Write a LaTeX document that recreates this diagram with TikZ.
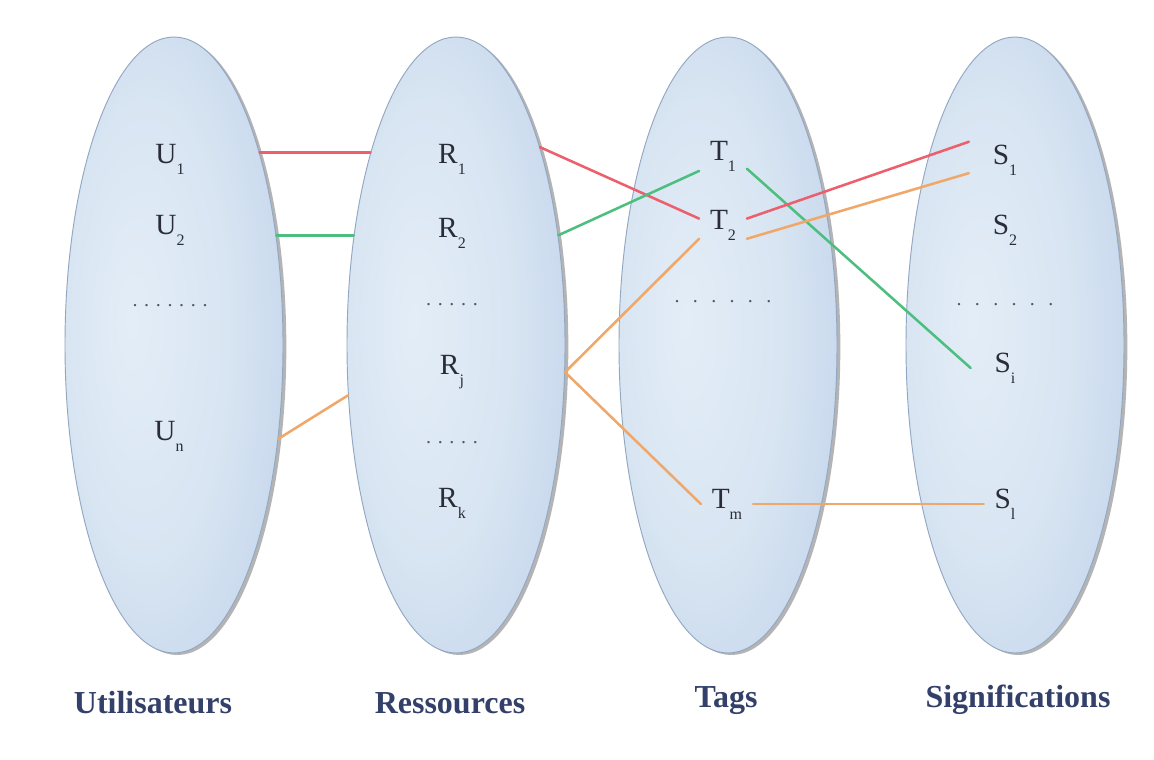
\documentclass[tikz,border=0pt]{standalone}
\usepackage{fontspec}
\setmainfont{Liberation Serif}
\usetikzlibrary{shapes.geometric,shadows}

\definecolor{linkred}{HTML}{EC5F6C}
\definecolor{linkgreen}{HTML}{4CBF7E}
\definecolor{linkorange}{HTML}{EFA86A}
\definecolor{labtext}{HTML}{2A2D38}
\definecolor{titletext}{HTML}{33416A}
\definecolor{rimblue}{HTML}{93A7C2}
\pgfdeclareradialshading{setshade}{\pgfpoint{-10bp}{2bp}}{rgb(0bp)=(.89,.93,.97); rgb(18bp)=(.85,.90,.95); rgb(36bp)=(.76,.83,.92); rgb(50bp)=(.66,.74,.86)}
\newcommand\idx[2]{#1\raisebox{-.38em}{\fontsize{12}{12}\selectfont #2}}

\begin{document}
\begin{tikzpicture}[x=0.75pt, y=-0.75pt, line cap=round,
 set/.style={ellipse, minimum width=163.5pt, minimum height=462pt, shade, shading=setshade, draw=rimblue, line width=.7pt,
  drop shadow={shadow xshift=2.5pt, shadow yshift=-1.5pt, opacity=.45, fill=black!65}},
 item/.style={inner xsep=8pt, inner ysep=2pt, text=labtext, font=\fontsize{22}{26}\selectfont},
 gap/.style={text=labtext!80, font=\fontsize{15}{18}\selectfont},
 title/.style={anchor=base, text=titletext, font=\fontsize{24}{28}\selectfont\bfseries},
 link/.style={line width=1.9pt}]
\path[use as bounding box, fill=white] (0,0) rectangle (1154,760);

% the four sets
\node[set] (eu) at (174,345) {};
\node[set] (er) at (456,345) {};
\node[set] (et) at (728,345) {};
\node[set] (es) at (1015,345) {};

% Utilisateurs
\node[item] (u1) at (170,159) {\idx{U}{1}};
\node[item] (u2) at (170,230) {\idx{U}{2}};
\node[gap] (udots) at (170,306) {. . . . . . .};
\node[item] (un) at (169,436) {\idx{U}{n}};

% Ressources
\node[item] (r1) at (452,159) {\idx{R}{1}};
\node[item] (r2) at (452,233) {\idx{R}{2}};
\node[gap] (rdots1) at (452,305) {. . . . .};
\node[item] (rj) at (452,372) {\idx{R}{j}};
\node[gap] (rdots2) at (452,443) {. . . . .};
\node[item] (rk) at (452,503) {\idx{R}{k}};

% Tags
\node[item] (t1) at (723,156) {\idx{T}{1}};
\node[item] (t2) at (723,225) {\idx{T}{2}};
\node[gap] (tdots) at (723,302) {.\,\, .\,\, .\,\, .\,\, .\,\, .};
\node[item] (tm) at (727,504) {\idx{T}{m}};

% Significations
\node[item, outer xsep=10pt] (s1) at (1005,160) {\idx{S}{1}};
\node[item] (s2) at (1005,230) {\idx{S}{2}};
\node[gap] (sdots) at (1005,305) {.\,\, .\,\, .\,\, .\,\, .\,\, .};
\node[item, outer xsep=10pt] (si) at (1005,368) {\idx{S}{i}};
\node[item] (sl) at (1005,504) {\idx{S}{l}};

% links
\draw[link, linkred] (eu.66) -- (er.114);
\draw[link, linkgreen] (eu.47) -- (er.133);
\draw[link, linkorange] (eu.-42) -- (er.-155);
\draw[link, linkred] (er.67) -- (t2.165);
\draw[link, linkgreen] (er.47) -- (t1.212);
\draw[link, linkorange] (t2.210) -- (er.-14) -- (tm.west);
\draw[link, linkgreen] (t1.-28) -- (si.west);
\draw[link, linkred] (t2.15) -- (s1.north west);
\draw[link, linkorange] (t2.-30) -- (s1.200);
\draw[link, linkorange] (tm.east) -- (sl.west);

% titles
\node[title] (tu) at (153,713) {Utilisateurs};
\node[title] (tr) at (450,713) {Ressources};
\node[title] (tt) at (726,707) {Tags};
\node[title] (ts) at (1018,707) {Significations};
\end{tikzpicture}
\end{document}
